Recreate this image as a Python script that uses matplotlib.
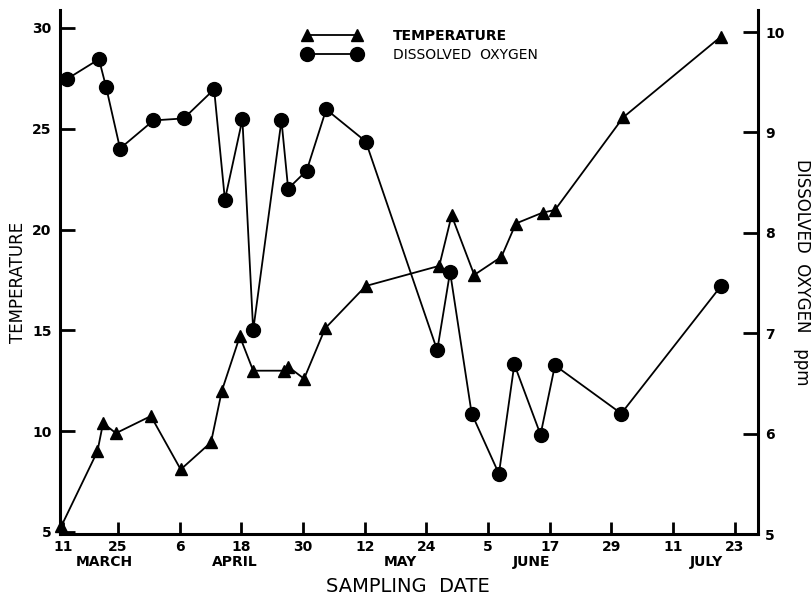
import matplotlib
matplotlib.use("Agg")
import matplotlib.pyplot as plt

# ---- data (x in days since 1 March) ----
temp_days = [13.0, 20.0, 21.1, 23.6, 30.4, 36.2, 42.1, 44.2, 47.7, 50.3, 56.2, 57.1,
             60.2, 64.3, 72.2, 86.5, 88.9, 93.3, 98.6, 101.4, 106.6, 109.0, 122.3, 141.3]
temp_c = [5.3, 9.0, 10.4, 9.9, 10.75, 8.1, 9.45, 12.0, 14.7, 13.0, 13.0, 13.2,
          12.6, 15.1, 17.2, 18.2, 20.7, 17.75, 18.65, 20.3, 20.84, 20.97, 25.57, 29.57]

do_days = [14.0, 20.3, 21.7, 24.4, 30.9, 36.8, 42.7, 44.8, 48.2, 50.3, 55.8, 57.1,
           60.7, 64.5, 72.2, 86.1, 88.6, 92.8, 98.1, 101.1, 106.2, 109.0, 121.9, 141.3]
do_ppm = [9.53, 9.73, 9.45, 8.84, 9.12, 9.14, 9.43, 8.33, 9.13, 7.03, 9.12, 8.44,
          8.62, 9.23, 8.91, 6.83, 7.61, 6.20, 5.60, 6.69, 5.99, 6.68, 6.20, 7.47]

tick_days = [13.3, 24, 36, 48, 60, 72, 84, 96, 108, 120, 132, 144]
tick_labels = ["11", "25", "6", "18", "30", "12", "24", "5", "17", "29", "11", "23"]
month_names = ["MARCH", "APRIL", "MAY", "JUNE", "JULY"]
month_days = [21.3, 46.8, 79.0, 104.5, 138.4]
temp_ticks = [5, 10, 15, 20, 25, 30]
do_ticks = [5, 6, 7, 8, 9, 10]

plt.rcParams['font.family'] = ['DejaVu Sans']

W, H = 812, 597
fig = plt.figure(figsize=(W / 100, H / 100), dpi=100)
ax = fig.add_axes([60 / W, 1 - 534 / H, 698 / W, 524 / H])
ax2 = ax.twinx()

lw_spine = 2.2
for s in ['top', 'right']:
    ax.spines[s].set_visible(False)
for s in ['top', 'left', 'bottom']:
    ax2.spines[s].set_visible(False)
ax.spines['left'].set_linewidth(lw_spine)
ax.spines['bottom'].set_linewidth(lw_spine)
ax2.spines['right'].set_linewidth(lw_spine)

l1, = ax.plot(temp_days, temp_c, color='black', lw=1.3, marker='^', markersize=9,
              clip_on=False, zorder=3)
l2, = ax2.plot(do_days, do_ppm, color='black', lw=1.3, marker='o', markersize=10,
               clip_on=False, zorder=3)

ax.set_xlim(12.72, 148.5)
ax.set_ylim(4.9, 30.89)
ax2.set_ylim(5.01, 10.22)

ax.set_xticks(tick_days)
ax.set_xticklabels(tick_labels, fontweight='bold', fontsize=10)
ax.set_yticks(temp_ticks)
ax.set_yticklabels([str(t) for t in temp_ticks], fontweight='bold', fontsize=10)
ax2.set_yticks(do_ticks)
ax2.set_yticklabels([str(t) for t in do_ticks], fontweight='bold', fontsize=10)

ax.tick_params(axis='x', direction='in', length=9, width=2, pad=4)
ax.tick_params(axis='y', direction='in', length=11, width=2, pad=6)
ax2.tick_params(axis='y', direction='in', length=11, width=2, pad=5)

for name, d in zip(month_names, month_days):
    ax.text(d, -0.053, name, transform=ax.get_xaxis_transform(), ha='center',
            va='center', fontsize=10, fontweight='bold')

ax.set_xlabel("SAMPLING  DATE", fontsize=14)
ax.xaxis.set_label_coords(0.4986, -0.082)
ax.set_ylabel("TEMPERATURE", fontsize=12)
ax.yaxis.set_label_coords(-0.047, 0.481)
ax2.set_ylabel("DISSOLVED  OXYGEN   ppm", fontsize=12, rotation=270, va='bottom')
ax2.yaxis.set_label_coords(1.050, 0.5)

leg = ax2.legend(handles=[l1, l2], labels=["TEMPERATURE", "DISSOLVED  OXYGEN"],
                 loc='upper left', bbox_to_anchor=(0.348, 0.964), frameon=False,
                 handlelength=4.2, handletextpad=2.3, borderpad=0, borderaxespad=0,
                 labelspacing=0.36, numpoints=2, prop={'size': 10})
leg.get_texts()[0].set_fontweight('bold')

fig.savefig("out.png", dpi=100)
